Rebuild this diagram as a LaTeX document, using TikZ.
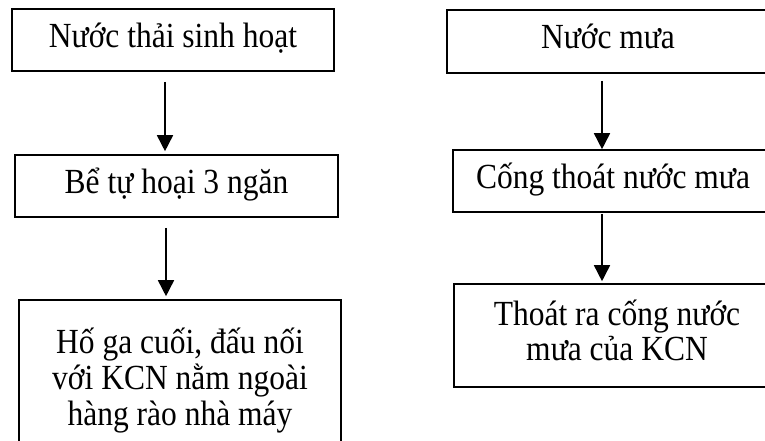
\documentclass[tikz,border=0pt]{standalone}
\usepackage{fontspec}
\setmainfont{Liberation Serif}
\usetikzlibrary{arrows.meta}
\newcommand\vstr[1]{\scalebox{1}[1.12]{\fontsize{31.5}{31.7}\selectfont\begin{tabular}{@{}c@{}}#1\end{tabular}}}
\begin{document}
\begin{tikzpicture}[x=1pt,y=-1pt,
  box/.style={draw=black,line width=1.6pt,inner sep=0pt,align=center},
  arr/.style={line width=1.6pt,-{Triangle[width=16pt,length=16pt]}}]
\useasboundingbox (0,0) rectangle (765,441);
\clip (0,0) rectangle (765,441);
\fill[white] (0,0) rectangle (765,441);
% left column
\node[box,minimum width=322pt,minimum height=62pt] (L1) at (173,40) {\vstr{Nước thải sinh hoạt}};
\node[box,minimum width=323pt,minimum height=62pt] (L2) at (176.5,186) {\vstr{Bể tự hoại 3 ngăn}};
\node[box,minimum width=322pt,minimum height=164pt] (L3) at (180,382) {\vstr{Hố ga cuối, đấu nối\\với KCN nằm ngoài\\hàng rào nhà máy}};
% right column
\node[box,minimum width=322pt,minimum height=63pt] (R1) at (608,41.5) {\vstr{Nước mưa}};
\node[box,minimum width=320pt,minimum height=62pt] (R2) at (613,181) {\vstr{Cống thoát nước mưa}};
\node[box,minimum width=326pt,minimum height=103pt] (R3) at (617,335.5) {\vstr{Thoát ra cống nước\\mưa của KCN}};
% arrows
\draw[arr] ([xshift=-8pt,yshift=-10pt]L1.south) -- ([xshift=-11.5pt,yshift=3pt]L2.north);
\draw[arr] ([xshift=-10.5pt,yshift=-10pt]L2.south) -- ([xshift=-14pt,yshift=3pt]L3.north);
\draw[arr] ([xshift=-6pt,yshift=-7pt]R1.south) -- ([xshift=-11pt]R2.north);
\draw[arr] ([xshift=-11pt,yshift=-1pt]R2.south) -- ([xshift=-15pt,yshift=2pt]R3.north);
\end{tikzpicture}
\end{document}
